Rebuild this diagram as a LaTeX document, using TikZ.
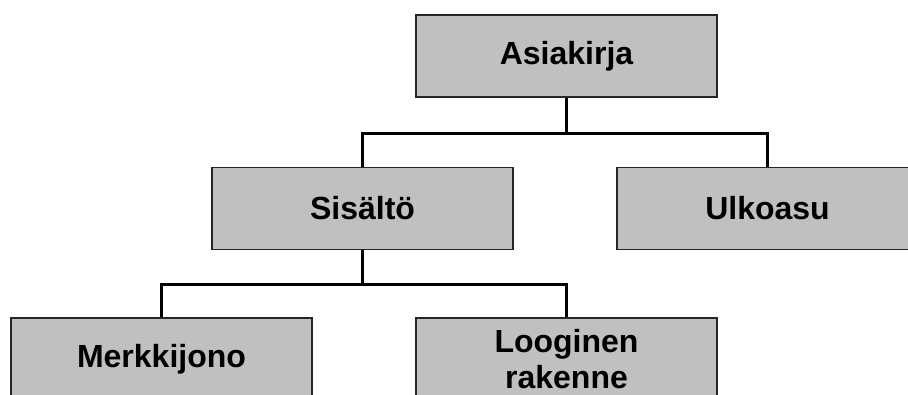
\documentclass[tikz,border=0pt]{standalone}
\usepackage{fontspec}
\setmainfont{Liberation Sans}
\definecolor{boxgray}{HTML}{C0C0C0}

\begin{document}
\begin{tikzpicture} [
    x = 1pt, y = 1pt,
    box/.style = {draw = black!85, line width = 1.4pt, fill = boxgray,
      minimum width = 301pt, minimum height = 82pt, align = center,
      font = \fontsize{32}{36}\selectfont\bfseries},
    link/.style = {line width = 3pt}
]
\useasboundingbox (0,0) rectangle (908,394);

% boxes
\node (asia) at (566.5, 338) [box] {Asiakirja};
\node (sis) at (362.5, 185.5) [box] {Sisältö};
\node (ulk) at (767.5, 185.5) [box] {Ulkoasu};
\node (merk) at (161.5, 35) [box] {Merkkijono};
\node (loog) at (566.5, 35) [box] {Looginen\\rakenne};

% connectors
\draw [link] (asia.south) -- ++(0,-36) -| (sis.north);
\draw [link] (asia.south) -- ++(0,-36) -| (ulk.north);
\draw [link] (sis.south) -- ++(0,-34) -| (merk.north);
\draw [link] (sis.south) -- ++(0,-34) -| (loog.north);

\end{tikzpicture}
\end{document}
